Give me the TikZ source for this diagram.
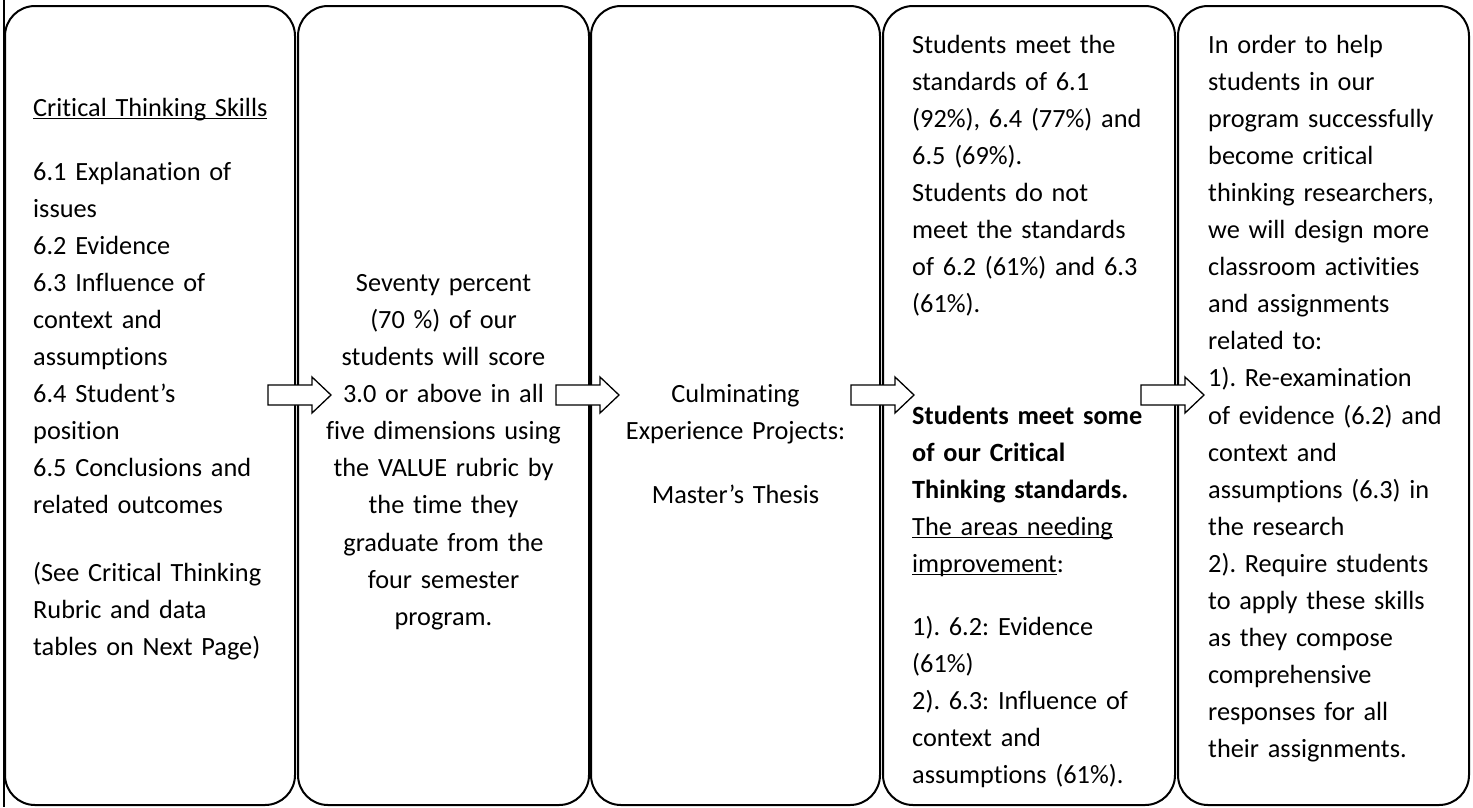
\documentclass[tikz,border=0pt]{standalone}
\usepackage{fontspec}
\setmainfont{Carlito}[Ligatures={NoCommon}]
\newcommand\ulx[1]{\leavevmode\setbox0\hbox{#1}\rlap{\rule[-3pt]{\wd0}{1.5pt}}\box0}
\frenchspacing
\begin{document}
\begin{tikzpicture}[x=1pt,y=-1pt,
  box/.style={draw, line width=2pt, rounded corners=30pt, minimum width=#1, minimum height=799pt, inner sep=0pt},
  txt/.style={inner sep=0pt, font=\fontsize{26.3}{37.1}\selectfont\frenchspacing, text width=275pt},
  barrow/.pic={\draw[line width=1.3pt, fill=white, line join=miter] (0,-10) -- (44,-10) -- (44,-18) -- (63,0) -- (44,18) -- (44,10) -- (0,10) -- cycle;}]
\useasboundingbox (0,0) rectangle (1473,807);
\draw[line width=1.5pt] (4,0) -- (4,807);
\node[box=290pt] (b1) at (150,405.5) {};
\node[box=291pt] (b2) at (443.5,405.5) {};
\node[box=289pt] (b3) at (735.5,405.5) {};
\node[box=292pt] (b4) at (1029,405.5) {};
\node[box=291pt] (b5) at (1323.5,405.5) {};
\node[txt, align=left, anchor=base west] (t1) at (33,116) {\ulx{Critical Thinking Skills}\\[26.9pt]
6.1 Explanation of\\ issues\\ 6.2 Evidence\\ 6.3 Influence of\\ context and\\ assumptions\\ 6.4 Student’s\\ position\\ 6.5 Conclusions and\\ related outcomes\\[30pt]
(See Critical Thinking\\ Rubric and data\\ tables on Next Page)};
\node[txt, text width=280pt, align=center, anchor=base] (t2) at (443.5,291.3) {Seventy percent\\ (70 \%) of our\\ students will score\\ 3.0 or above in all\\ five dimensions using\\ the VALUE rubric by\\ the time they\\ graduate from the\\ four semester\\ program.};
\node[txt, align=center, anchor=base] (t3) at (735.5,402.6) {Culminating\\ Experience Projects:\\[26.9pt] Master’s Thesis};
\node[txt, align=left, anchor=base west] (t4) at (912,53) {Students meet the\\ standards of 6.1\\ (92\%), 6.4 (77\%) and\\ 6.5 (69\%).\\ Students do not\\ meet the standards\\ of 6.2 (61\%) and 6.3\\ (61\%).\\[74.2pt] \textbf{Students meet some}\\ \textbf{of our Critical}\\ \textbf{Thinking standards.}\\ \ulx{The areas needing}\\ \ulx{improvement}:\\[26pt] 1). 6.2: Evidence\\ (61\%)\\ 2). 6.3: Influence of\\ context and\\ assumptions (61\%).};
\node[txt, align=left, anchor=base west] (t5) at (1208,53) {In order to help\\ students in our\\ program successfully\\ become critical\\ thinking researchers,\\ we will design more\\ classroom activities\\ and assignments\\ related to:\\ 1). Re-examination\\ of evidence (6.2) and\\ context and\\ assumptions (6.3) in\\ the research\\ 2). Require students\\ to apply these skills\\ as they compose\\ comprehensive\\ responses for all\\ their assignments.};
\coordinate (a1) at (268,395);
\coordinate (a2) at (556,395);
\coordinate (a3) at (851,395);
\coordinate (a4) at (1141,395);
\pic at (a1) {barrow};
\pic at (a2) {barrow};
\pic at (a3) {barrow};
\pic at (a4) {barrow};
\end{tikzpicture}
\end{document}
